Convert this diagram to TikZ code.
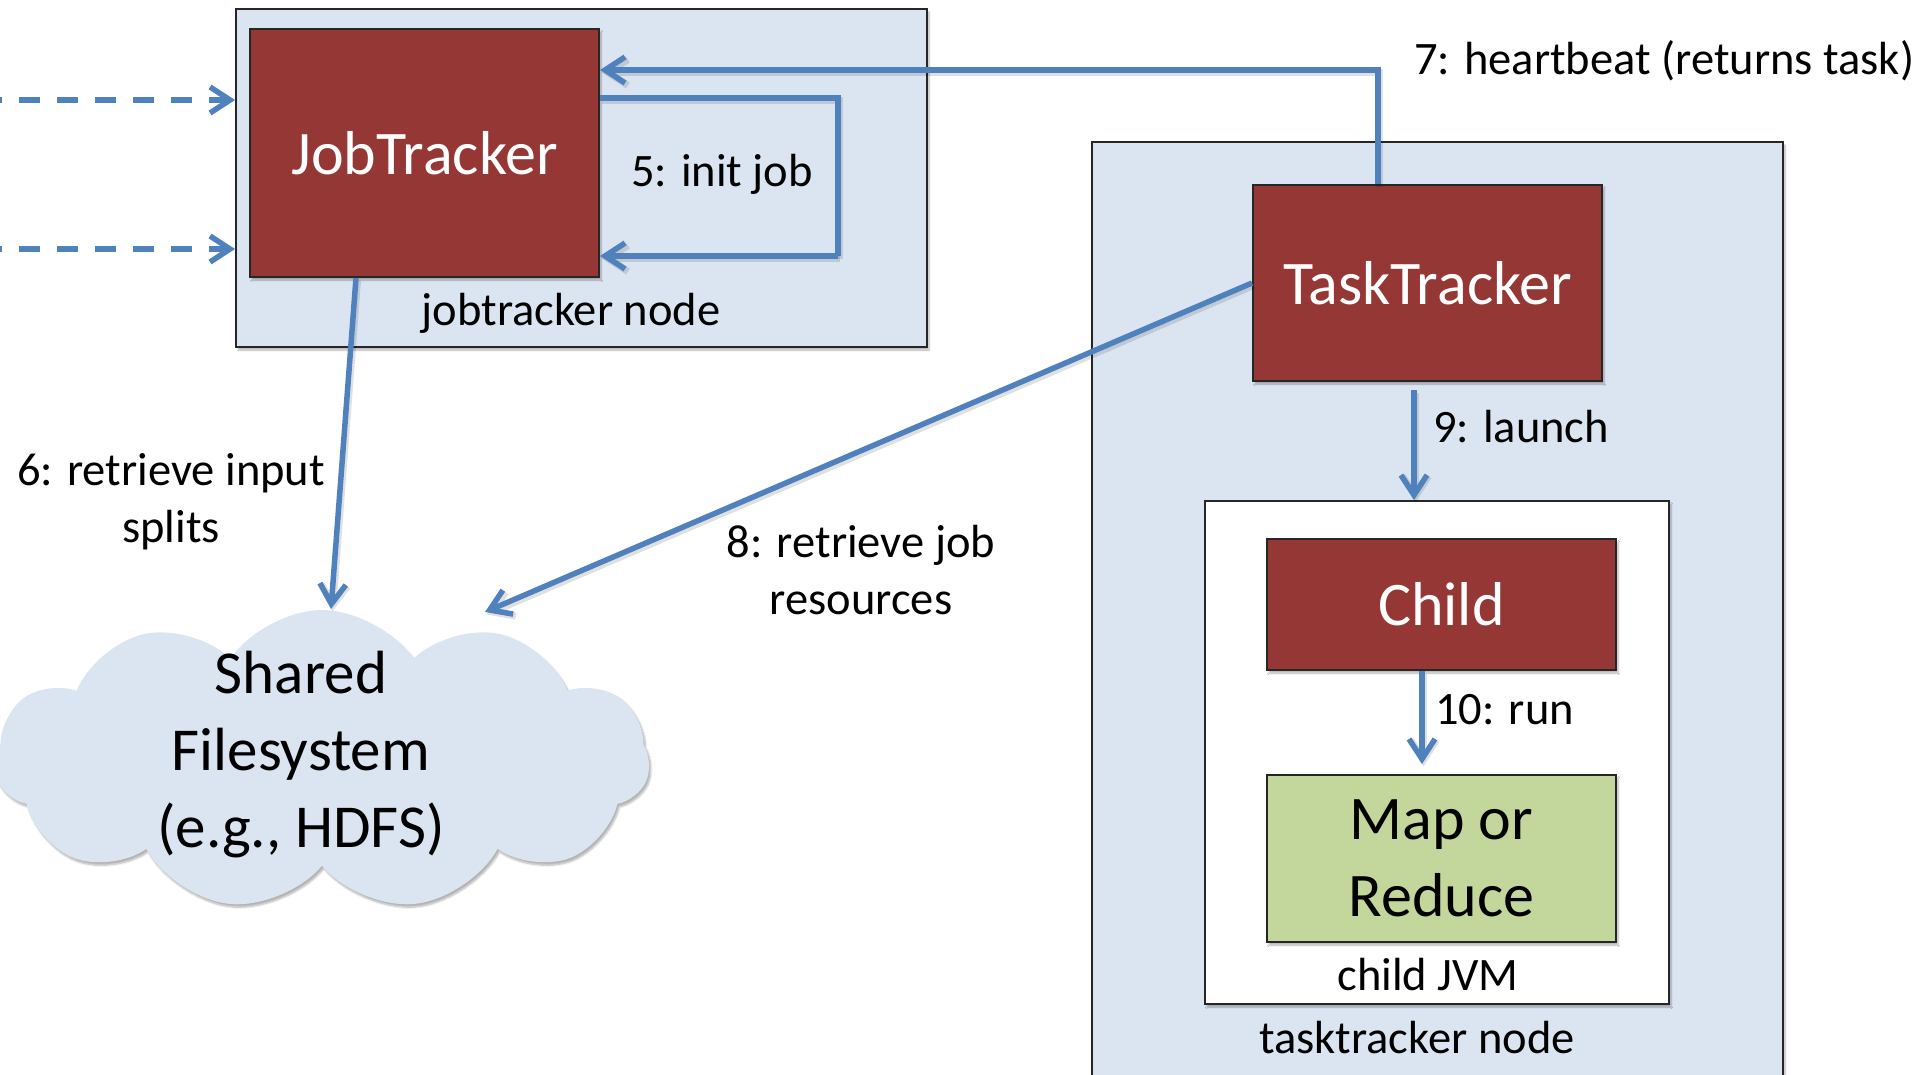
\documentclass[tikz,border=0pt]{standalone}
\usepackage{fontspec}
\setmainfont{Carlito}
\usetikzlibrary{arrows.meta,shapes.symbols,shadows.blur,calc}

\definecolor{boxred}{HTML}{953735}
\definecolor{nodeblue}{HTML}{DBE5F1}
\definecolor{taskgreen}{HTML}{C3D69B}
\definecolor{linkblue}{HTML}{4F81BD}

\newcommand\lgtxt{\fontsize{62}{77}\selectfont}
\newcommand\smtxt{\fontsize{46.5}{57}\selectfont}
\newcommand\fstxt{\fontsize{61}{77}\selectfont}

\begin{document}
\begin{tikzpicture}[x=1pt,y=-1pt,
  softshadow/.style={blur shadow={shadow xshift=2pt,shadow yshift=-3pt,
      shadow blur steps=6,shadow opacity=30}},
  host/.style={draw=black!85,line width=1.8pt,fill=nodeblue,inner sep=0pt,softshadow},
  jvmbox/.style={draw=black!85,line width=1.8pt,fill=white,inner sep=0pt,softshadow},
  daemon/.style={draw=black!85,line width=2pt,fill=boxred,text=white,
      inner sep=0pt,font=\lgtxt,softshadow},
  taskbox/.style={draw=black!85,line width=2pt,fill=taskgreen,text=black,
      inner sep=0pt,font=\lgtxt,align=center,softshadow},
  label/.style={font=\smtxt,text=black,inner sep=0pt,align=center},
  linkshadow/.style={preaction={draw=black,draw opacity=0.12,line width=7pt,
      transform canvas={xshift=1.5pt,yshift=-2.5pt}}},
  flow/.style={draw=linkblue,line width=5.5pt,linkshadow,
      -{Straight Barb[length=20pt,width=26pt]}},
  loopline/.style={draw=linkblue,line width=5.5pt,linkshadow},
  dashflow/.style={draw=linkblue,line width=5.5pt,dash pattern=on 21pt off 17pt,
      -{Straight Barb[length=20pt,width=26pt]}},
]
\useasboundingbox (0,0) rectangle (1920,1074);
\clip (0,0) rectangle (1920,1074);

% jobtracker host
\node[host,minimum width=691pt,minimum height=338pt] (jtnode) at (581.5,178) {};
\node[daemon,minimum width=349pt,minimum height=248pt] (jt) at (424.5,153) {JobTracker};
\node[label] (jtnodelabel) at (571,313) {jobtracker node};

% tasktracker host
\node[host,minimum width=691pt,minimum height=958pt] (ttnode) at (1437.5,621) {};
\node[daemon,minimum width=349pt,minimum height=196pt] (tt) at (1427.5,283) {TaskTracker};
\node[jvmbox,minimum width=464pt,minimum height=503pt] (jvm) at (1437,752.5) {};
\node[daemon,minimum width=349pt,minimum height=131pt] (child) at (1441.5,604.5) {Child};
\node[taskbox,minimum width=349pt,minimum height=167pt] (mr) at (1441.5,858.5) {Map or\\Reduce};
\node[label] (jvmlabel) at (1428,975) {child JVM};
\node[label] (ttnodelabel) at (1417,1038) {tasktracker node};

% shared filesystem
\node[cloud,cloud puffs=11,cloud puff arc=112,aspect=2.2,fill=nodeblue,inner sep=0pt,
      minimum width=655pt,minimum height=300pt,softshadow] (fs) at (322,760) {};
\node[font=\fstxt,align=center,inner sep=0pt] (fstext) at (301,755)
      {Shared\\Filesystem\\(e.g., HDFS)};

% incoming requests
\coordinate (in1) at (-19,100);
\coordinate (in2) at (-19,249);
\draw[dashflow] (in1) -- (in1 -| jtnode.west);
\draw[dashflow] (in2) -- (in2 -| jtnode.west);

% 5: init job
\coordinate (initout) at (838,98);
\coordinate (initback) at (838,256);
\draw[loopline] (jt.east |- initout) -- (initout) -- (initback);
\draw[flow] (initback) -- (jt.east |- initback);
\node[label] (initlabel) at (722,174) {5: init job};

% 6: retrieve input splits
\coordinate (jtout) at (356,0);
\coordinate (fsin1) at (331,609);
\draw[flow] (jt.south -| jtout) -- (fsin1);
\node[label] (splitlabel) at (171,502) {6: retrieve input\\splits};

% 7: heartbeat
\coordinate (hb) at (1378,70);
\draw[flow] (tt.north -| hb) |- (jt.east |- hb);
\node[label,anchor=west] (hblabel) at (1414,61) {7: heartbeat (returns task)};

% 8: retrieve job resources
\coordinate (fsin2) at (485,612);
\draw[flow] (tt.west) -- (fsin2);
\node[label] (reslabel) at (861,570) {8: retrieve job\\resources};

% 9: launch
\coordinate (launchx) at (1414,0);
\draw[flow] ($(tt.south -| launchx)+(0,8)$) -- (jvm.north -| launchx);
\node[label,anchor=west] (launchlabel) at (1433,427) {9: launch};

% 10: run
\coordinate (runx) at (1422,0);
\draw[flow] (child.south -| runx) -- ($(mr.north -| runx)+(0,-10)$);
\node[label,anchor=west] (runlabel) at (1435,710) {10: run};
\end{tikzpicture}
\end{document}
